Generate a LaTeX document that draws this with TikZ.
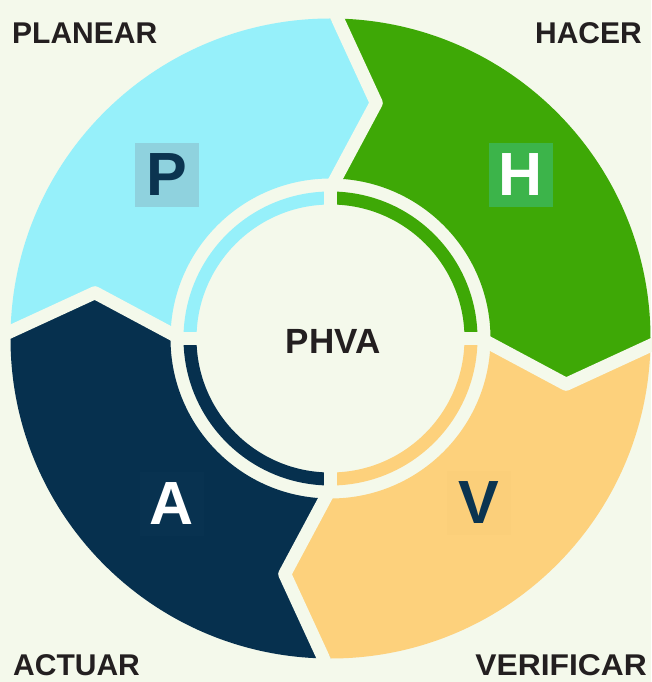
\documentclass[tikz,border=0pt]{standalone}
\usepackage{fontspec}
\setmainfont{Liberation Sans}
\usetikzlibrary{positioning}

\definecolor{fondo}{HTML}{F4F9EB}
\definecolor{planear}{HTML}{96F0FA}
\definecolor{hacer}{HTML}{3EA806}
\definecolor{verificar}{HTML}{FDD17C}
\definecolor{actuar}{HTML}{06304E}
\definecolor{cajaP}{HTML}{8FD2DE}
\definecolor{cajaH}{HTML}{3CB44A}
\definecolor{cajaV}{HTML}{FBCF7A}
\definecolor{cajaA}{HTML}{083250}
\definecolor{letraosc}{HTML}{0B3450}
\definecolor{textoosc}{HTML}{231F20}

\begin{document}
\begin{tikzpicture}[x=1pt, y=1pt,
    etiqueta/.style={font=\fontsize{30}{30}\selectfont\bfseries, text=textoosc, inner sep=0pt},
    letra/.style={font=\fontsize{61}{61}\selectfont\bfseries, inner sep=0pt, minimum size=64pt},
    corte/.style={fondo, line width=13pt, line join=round}]

  % --- Fondo ---
  \fill[fondo] (-330.5,-343.5) rectangle (320.5,338.5);
  \useasboundingbox (-330.5,-343.5) rectangle (320.5,338.5);

  % --- Segmentos (flechas del ciclo) ---
  \foreach \a/\col in {180/planear, 90/hacer, 0/verificar, -90/actuar}{
    \fill[\col] (\a:320) arc[start angle=\a, end angle=\a-90, radius=320]
      -- ({\a-101}:240) -- ({\a-90}:160)
      arc[start angle=\a-90, end angle=\a, radius=160]
      -- ({\a-11}:240) -- cycle;
  }

  % --- Cortes entre segmentos ---
  \foreach \a in {180, 90, 0, -90}
    \draw[corte] (\a:335) -- ({\a-11}:240) -- (\a:150);

  % --- Anillo interior ---
  \foreach \a/\col in {180/planear, 90/hacer, 0/verificar, -90/actuar}{
    \fill[\col] (\a:147) arc[start angle=\a, end angle=\a-90, radius=147]
      -- ({\a-90}:134) arc[start angle=\a-90, end angle=\a, radius=134] -- cycle;
  }
  \fill[fondo] (-6.5,-150) rectangle (6.5,150);
  \fill[fondo] (-150,-6.5) rectangle (150,6.5);

  % --- Centro ---
  \node[font=\fontsize{35}{35}\selectfont\bfseries, text=textoosc, inner sep=0pt]
    (phva) at (2.5,-3) {PHVA};

  % --- Letras ---
  \node[letra, fill=cajaP, text=letraosc] (P) at (-163.5,163.5) {P};
  \node[letra, fill=cajaH, text=white] (H) at (190.5,163.5) {H};
  \node[letra, fill=cajaV, text=letraosc] (V) at (148.5,-164.5) {V};
  \node[letra, fill=cajaA, text=white] (A) at (-158.5,-165.5) {A};

  % --- Etiquetas ---
  \node[etiqueta, anchor=west] (planear) at (-318.5,305.5) {PLANEAR};
  \node[etiqueta, anchor=east] (hacer) at (311.5,305) {HACER};
  \node[etiqueta, anchor=west] (actuar) at (-317.5,-327) {ACTUAR};
  \node[etiqueta, anchor=east, xscale=1.06] (verificar) at (316.5,-327) {VERIFICAR};

\end{tikzpicture}
\end{document}
